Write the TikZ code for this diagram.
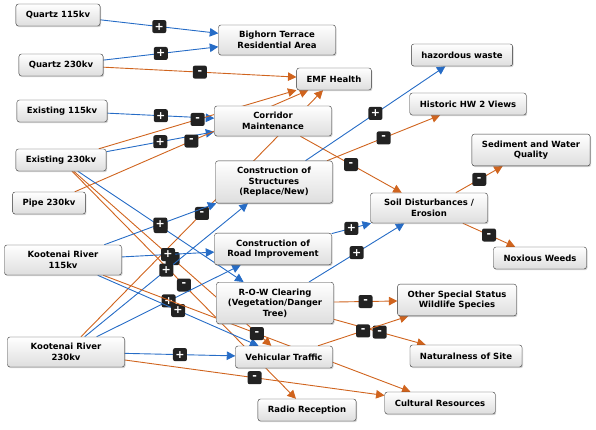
\documentclass[tikz,border=0pt]{standalone}
\usepackage{fontspec}
\setmainfont{DejaVu Sans}
\usetikzlibrary{arrows.meta,shadows,backgrounds}
\definecolor{posblue}{RGB}{38,108,198}
\definecolor{negorange}{RGB}{208,100,30}
\definecolor{signgrey}{RGB}{34,34,34}

\tikzset{
  factor/.style={draw=black!80, rounded corners=2.5pt, top color=white, bottom color=black!13,
    drop shadow={shadow xshift=1pt, shadow yshift=-1.2pt, opacity=0.35},
    font=\fontsize{8.5}{10.5}\selectfont\bfseries, align=center,
    inner xsep=10pt, inner ysep=6.5pt, minimum height=22pt},
  widebox/.style={factor, minimum width=117pt},
  signbox/.style={fill=signgrey, text=white, rounded corners=2pt, inner sep=0pt,
    font=\fontsize{11}{11}\selectfont\bfseries, minimum width=14pt, minimum height=13pt},
  poslink/.style={draw=posblue, line width=0.9pt, -{Triangle[length=8.5pt,width=8.5pt]}},
  neglink/.style={draw=negorange, line width=0.9pt, -{Triangle[length=8.5pt,width=8.5pt]}},
}

\begin{document}
\begin{tikzpicture}[x=1pt, y=-1pt]
    \useasboundingbox (0,0) rectangle (596,429);

    % Power line options
    \node[factor] (q115) at (58,15) {Quartz 115kv};
    \node[factor] (q230) at (61,65) {Quartz 230kv};
    \node[factor] (e115) at (62,111) {Existing 115kv};
    \node[factor] (e230) at (61,160) {Existing 230kv};
    \node[factor] (pipe) at (49,203) {Pipe 230kv};
    \node[widebox] (k115) at (63,260) {Kootenai River\\115kv};
    \node[widebox] (k230) at (66,352) {Kootenai River\\230kv};

    % Activities
    \node[widebox] (cm) at (273,121) {Corridor\\Maintenance};
    \node[widebox] (cs) at (274,182) {Construction of\\Structures\\(Replace/New)};
    \node[widebox] (cri) at (273,249) {Construction of\\Road Improvement};
    \node[widebox] (row) at (275,303) {R-O-W Clearing\\(Vegetation/Danger\\Tree)};
    \node[factor] (vt) at (284,357) {Vehicular Traffic};
    \node[widebox] (soil) at (429,208) {Soil Disturbances /\\Erosion};

    % Effects
    \node[widebox] (bighorn) at (277,40) {Bighorn Terrace\\Residential Area};
    \node[factor] (emf) at (334,79) {EMF Health};
    \node[factor] (hw) at (462,55) {hazordous waste};
    \node[factor] (hist) at (468,104) {Historic HW 2 Views};
    \node[widebox] (sed) at (531,150) {Sediment and Water\\Quality};
    \node[factor] (nox) at (540,258) {Noxious Weeds};
    \node[widebox] (oss) at (457,300) {Other Special Status\\Wildlife Species};
    \node[factor] (nat) at (466,356) {Naturalness of Site};
    \node[factor] (radio) at (307,410) {Radio Reception};
    \node[factor] (cr) at (440,403) {Cultural Resources};

    % Links with sign
    \begin{scope}[on background layer]
    \draw[poslink] (q115) -- node[signbox] {+} (bighorn);
    \draw[poslink] (q230) -- node[signbox] {+} (bighorn);
    \draw[neglink] (q230) -- node[signbox] {-} (emf);
    \draw[poslink] (e115) -- node[signbox] {+} (cm);
    \draw[poslink] (e230) -- node[signbox] {+} (cm);
    \draw[neglink] (e230) -- node[signbox] {-} (emf);
    \draw[neglink] (pipe) -- node[signbox] {-} (emf);
    \draw[neglink] (k230) -- node[signbox] {-} (emf);
    \draw[neglink] (e230) -- node[signbox] {-} (vt);
    \draw[neglink] (e230) -- node[signbox] {-} (radio);
    \draw[poslink] (e230) -- node[signbox] {+} (row);
    \draw[poslink] (k115) -- node[signbox] {+} (cs);
    \draw[poslink] (k115) -- node[signbox] {+} (cri);
    \draw[poslink] (k230) -- node[signbox] {+} (cs);
    \draw[poslink] (k230) -- node[signbox] {+} (cri);
    \draw[poslink] (k115) -- node[signbox] {+} (vt);
    \draw[neglink] (k115) -- node[signbox] {-} (cr);
    \draw[poslink] (k230) -- node[signbox] {+} (vt);
    \draw[neglink] (k230) -- node[signbox] {-} (cr);
    \draw[neglink] (cm) -- node[signbox] {-} (soil);
    \draw[poslink] (cs) -- node[signbox] {+} (hw);
    \draw[neglink] (cs) -- node[signbox] {-} (hist);
    \draw[poslink] (cri) -- node[signbox] {+} (soil);
    \draw[poslink] (row) -- node[signbox] {+} (soil);
    \draw[neglink] (row) -- node[signbox] {-} (oss);
    \draw[neglink] (row) -- node[signbox] {-} (nat);
    \draw[neglink] (vt) -- node[signbox] {-} (oss);
    \draw[neglink] (soil) -- node[signbox] {-} (sed);
    \draw[neglink] (soil) -- node[signbox] {-} (nox);
    \end{scope}
\end{tikzpicture}
\end{document}
